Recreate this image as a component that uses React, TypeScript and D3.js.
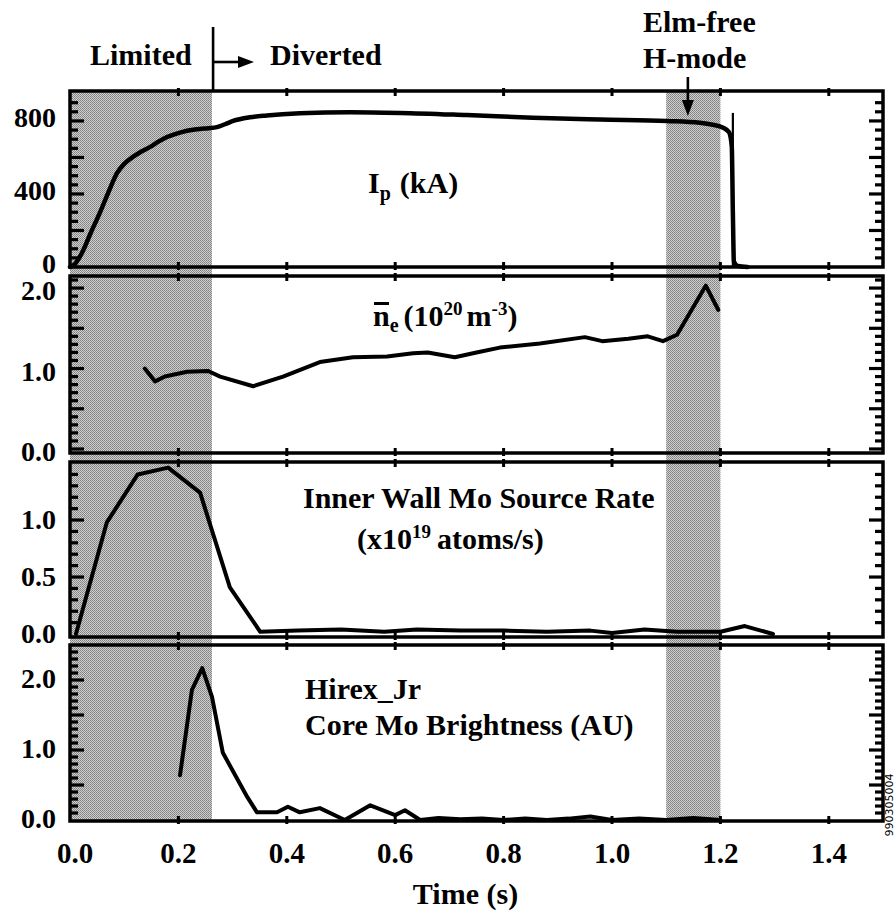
import React from "react";
import * as d3 from "d3";

// ---- time axis ----
const timeTicks = [0, 0.2, 0.4, 0.6, 0.8, 1.0, 1.2, 1.4];
const timeTickLabels = ["0.0", "0.2", "0.4", "0.6", "0.8", "1.0", "1.2", "1.4"];

// ---- phases ----
const limitedPhase = [0, 0.262];
const hmodePhase = [1.1, 1.2];
const divertTime = 0.264;
const hmodeArrowTime = 1.14;

// ---- plasma current Ip (kA) ----
const ipSeries: [number, number][] = [
  [0.0, 0], [0.009, 16], [0.022, 77], [0.038, 185], [0.055, 296], [0.071, 410],
  [0.087, 515], [0.1, 565], [0.116, 603], [0.132, 633], [0.148, 658], [0.164, 688],
  [0.179, 712], [0.194, 728], [0.208, 740], [0.224, 750], [0.24, 756], [0.255, 760],
  [0.271, 766], [0.286, 782], [0.301, 800], [0.332, 820], [0.363, 830], [0.424, 842],
  [0.517, 848], [0.609, 844], [0.732, 832], [0.854, 818], [0.978, 808], [1.101, 800],
  [1.162, 790], [1.186, 779], [1.205, 763], [1.216, 738], [1.221, 660], [1.223, 300],
  [1.225, 30], [1.232, 6], [1.25, 0],
];
const ipSpike: [number, number][] = [[1.223, 0], [1.223, 844]];

// ---- line-averaged density (1e20 m^-3) ----
const neSeries: [number, number][] = [
  [0.138, 1.0], [0.157, 0.84], [0.175, 0.9], [0.216, 0.96], [0.255, 0.97], [0.277, 0.9],
  [0.338, 0.78], [0.393, 0.9], [0.461, 1.08], [0.522, 1.14], [0.585, 1.15], [0.633, 1.19],
  [0.66, 1.2], [0.71, 1.14], [0.75, 1.2], [0.793, 1.26], [0.867, 1.31], [0.95, 1.39],
  [0.982, 1.34], [1.03, 1.37], [1.066, 1.4], [1.094, 1.34], [1.12, 1.42], [1.173, 2.03],
  [1.196, 1.73],
];

// ---- inner wall Mo source rate (1e19 atoms/s) ----
const moSourceSeries: [number, number][] = [
  [0.011, 0.0], [0.068, 0.98], [0.125, 1.4], [0.181, 1.46], [0.24, 1.24], [0.295, 0.41],
  [0.351, 0.02], [0.42, 0.03], [0.5, 0.04], [0.58, 0.02], [0.64, 0.04], [0.72, 0.03],
  [0.8, 0.03], [0.88, 0.02], [0.96, 0.03], [1.0, 0.01], [1.06, 0.04], [1.12, 0.02],
  [1.2, 0.02], [1.245, 0.07], [1.297, 0.0],
];

// ---- Hirex_Jr core Mo brightness (AU) ----
const hirexSeries: [number, number][] = [
  [0.203, 0.64], [0.225, 1.86], [0.244, 2.17], [0.262, 1.76], [0.282, 0.96], [0.327, 0.33],
  [0.345, 0.11], [0.382, 0.11], [0.402, 0.19], [0.424, 0.11], [0.461, 0.17], [0.507, 0.0],
  [0.554, 0.21], [0.6, 0.07], [0.618, 0.14], [0.646, 0.0], [0.68, 0.03], [0.72, 0.01],
  [0.76, 0.02], [0.8, 0.0], [0.84, 0.02], [0.88, 0.0], [0.92, 0.02], [0.96, 0.05],
  [1.0, 0.0], [1.05, 0.02], [1.1, 0.0], [1.15, 0.03], [1.2, 0.0],
];

// ---- y tick labels ----
const ipTicks = [0, 400, 800];
const ipTickLabels = ["0", "400", "800"];
const neTicks = [0, 1, 2];
const neTickLabels = ["0.0", "1.0", "2.0"];
const moTicks = [0, 0.5, 1.0];
const moTickLabels = ["0.0", "0.5", "1.0"];
const hirexTicks = [0, 1, 2];
const hirexTickLabels = ["0.0", "1.0", "2.0"];

const FONT = "'Liberation Serif', 'Times New Roman', Times, serif";
const LEFT = 70;
const RIGHT = 883;

type Panel = {
  top: number;
  bottom: number;
  domain: [number, number];
  minor: number;
  major: number;
  ticks: number[];
  labels: string[];
  labelDy: number;
  series: [number, number][];
  width: number;
  curve: d3.CurveFactory;
};

const panels: Panel[] = [
  { top: 91, bottom: 267, domain: [0, 964], minor: 50, major: 200, ticks: ipTicks, labels: ipTickLabels, labelDy: 0, series: ipSeries, width: 4.5, curve: d3.curveMonotoneX },
  { top: 276, bottom: 453, domain: [-0.05, 2.15], minor: 0.1, major: 0.5, ticks: neTicks, labels: neTickLabels, labelDy: 6, series: neSeries, width: 4, curve: d3.curveLinear },
  { top: 462, bottom: 637, domain: [-0.026, 1.509], minor: 0.1, major: 0.5, ticks: moTicks, labels: moTickLabels, labelDy: 3, series: moSourceSeries, width: 4, curve: d3.curveLinear },
  { top: 645, bottom: 821, domain: [-0.014, 2.5], minor: 0.1, major: 0.5, ticks: hirexTicks, labels: hirexTickLabels, labelDy: 2, series: hirexSeries, width: 4, curve: d3.curveLinear },
];

type TickRect = { x: number; y: number; w: number; h: number };

export default function App() {
  const x = d3.scaleLinear().domain([0, 1.5]).range([LEFT, RIGHT]);
  const topY = panels[0].top;
  const bottomY = panels[panels.length - 1].bottom;

  return (
    <svg width={896} height={918} style={{ position: "absolute", left: 0, top: 0, background: "#fff" }} fontFamily={FONT}>
      <defs>
        <pattern id="stipple" width={2} height={2} patternUnits="userSpaceOnUse">
          <rect width={2} height={2} fill="#cfcfcf" />
          <rect width={1} height={1} fill="#808080" />
          <rect x={1} y={1} width={1} height={1} fill="#8e8e8e" />
        </pattern>
      </defs>

      {/* phase shading across all panels */}
      <rect x={x(limitedPhase[0])} y={topY} width={x(limitedPhase[1]) - x(limitedPhase[0])} height={bottomY - topY} fill="url(#stipple)" />
      <rect x={x(hmodePhase[0])} y={topY} width={x(hmodePhase[1]) - x(hmodePhase[0])} height={bottomY - topY} fill="url(#stipple)" />

      {panels.map((p, i) => {
        const y = d3.scaleLinear().domain(p.domain).range([p.bottom, p.top]);
        const line = d3.line<[number, number]>().x(d => x(d[0])).y(d => y(d[1])).curve(p.curve);
        const nStart = Math.ceil(p.domain[0] / p.minor - 1e-6);
        const nEnd = Math.floor(p.domain[1] / p.minor + 1e-6);
        const rects: TickRect[] = [];
        for (let n = nStart; n <= nEnd; n++) {
          const v = n * p.minor;
          const yy = y(v);
          if (yy < p.top + 3 || yy > p.bottom - 3) continue;
          const r = v / p.major;
          const len = Math.abs(r - Math.round(r)) < 1e-6 ? 14 : 8;
          rects.push({ x: LEFT, y: yy - 1.6, w: len, h: 3.2 });
          rects.push({ x: RIGHT - len, y: yy - 1.6, w: len, h: 3.2 });
        }
        timeTicks.forEach(t => {
          const xx = x(t);
          if (xx < LEFT + 3) return;
          rects.push({ x: xx - 1.5, y: p.top - 3, w: 3, h: 8 });
          rects.push({ x: xx - 1.5, y: p.bottom - 5, w: 3, h: 8 });
        });
        return (
          <g key={i}>
            <rect x={LEFT} y={p.top} width={RIGHT - LEFT} height={p.bottom - p.top} fill="none" stroke="#000" strokeWidth={3.5} />
            {rects.map((r, k) => (
              <rect key={k} x={r.x} y={r.y} width={r.w} height={r.h} fill="#000" />
            ))}
            <path d={line(p.series) ?? ""} fill="none" stroke="#000" strokeWidth={p.width} strokeLinejoin="round" strokeLinecap="round" />
            {p.ticks.map((v, k) => (
              <text key={k} x={56} y={y(v) + p.labelDy} textAnchor="end" dominantBaseline="middle" fontSize={28} fontWeight="bold">
                {p.labels[k]}
              </text>
            ))}
          </g>
        );
      })}

      {/* disruption spike on the current trace */}
      {(() => {
        const y = d3.scaleLinear().domain(panels[0].domain).range([panels[0].bottom, panels[0].top]);
        const l = d3.line<[number, number]>().x(d => x(d[0])).y(d => y(d[1]));
        return <path d={l(ipSpike) ?? ""} stroke="#000" strokeWidth={2.2} fill="none" />;
      })()}

      {/* time axis labels */}
      {timeTicks.map((t, k) => (
        <text key={k} x={x(t) + (k === 0 ? 5 : 0)} y={863} textAnchor="middle" fontSize={29} fontWeight="bold">{timeTickLabels[k]}</text>
      ))}
      <text x={(LEFT + RIGHT) / 2 - 11} y={904} textAnchor="middle" fontSize={30} fontWeight="bold">Time (s)</text>

      {/* phase annotations */}
      <text x={90} y={65} fontSize={30} fontWeight="bold">Limited</text>
      <line x1={x(divertTime)} x2={x(divertTime)} y1={27} y2={topY} stroke="#000" strokeWidth={2.6} />
      <line x1={x(divertTime)} x2={245} y1={62} y2={62} stroke="#000" strokeWidth={2.6} />
      <polygon points="254,62 238,56 238,68" fill="#000" />
      <text x={270} y={65} fontSize={30} fontWeight="bold">Diverted</text>

      <text x={643} y={32} fontSize={30} fontWeight="bold">Elm-free</text>
      <text x={643} y={68} fontSize={30} fontWeight="bold">H-mode</text>
      <line x1={x(hmodeArrowTime)} x2={x(hmodeArrowTime)} y1={77} y2={104} stroke="#000" strokeWidth={2.6} />
      <polygon points={`${x(hmodeArrowTime)},116 ${x(hmodeArrowTime) - 6},100 ${x(hmodeArrowTime) + 6},100`} fill="#000" />

      {/* panel titles */}
      <text x={368} y={193} fontSize={30} fontWeight="bold">
        I<tspan fontSize={20} dy={7}>p</tspan><tspan dy={-7} dx={9}>(kA)</tspan>
      </text>

      <rect x={374} y={302} width={15} height={3} fill="#000" />
      <text x={373} y={326} fontSize={30} fontWeight="bold">
        n<tspan fontSize={20} dy={6}>e</tspan>
        <tspan dy={-6} dx={5}>(10</tspan>
        <tspan fontSize={19} dy={-11}>20</tspan>
        <tspan dy={11} dx={4}>m</tspan>
        <tspan fontSize={19} dy={-11}>-3</tspan>
        <tspan dy={11}>)</tspan>
      </text>

      <text x={303} y={508} fontSize={30} fontWeight="bold">Inner Wall Mo Source Rate</text>
      <text x={357} y={549} fontSize={30} fontWeight="bold">
        (x10<tspan fontSize={19} dy={-11}>19</tspan><tspan dy={11} dx={6}>atoms/s)</tspan>
      </text>

      <text x={305} y={699} fontSize={30} fontWeight="bold">Hirex_Jr</text>
      <text x={305} y={735} fontSize={30} fontWeight="bold">Core Mo Brightness (AU)</text>

      <text x={0} y={0} transform="translate(893,805) rotate(-90)" textAnchor="middle" fontSize={11} fontFamily="'DejaVu Sans', sans-serif">990305004</text>
    </svg>
  );
}
